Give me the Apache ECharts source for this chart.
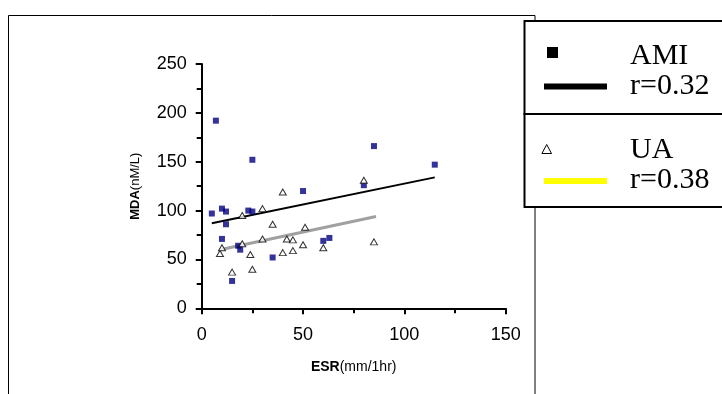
<!DOCTYPE html>
<html>
<head>
<meta charset="utf-8">
<script src="https://cdn.jsdelivr.net/npm/echarts@6/dist/echarts.min.js"></script>
<style>html,body{margin:0;padding:0;background:#fff;}#c{width:722px;height:394px;}</style>
</head>
<body>
<div id="c"></div>
<script>
// AMI data [ESR, MDA]
const amiPoints = [[5,97],[7,192],[10,102],[12,99],[12,86],[10,71],[18,64],[19,60],[15,28],[23,100],[25,99],[25,152],[35,52],[50,120],[60,69],[63,72],[80,126],[85,166],[115,147]];
// UA data [ESR, MDA]
const uaPoints = [[9,56],[10,62],[15,37],[20,95],[20,66],[24,55],[25,40],[30,102],[30,71],[35,86],[40,119],[40,57],[42,71],[45,70],[45,59],[50,65],[51,83],[60,62],[80,131],[85,68]];
// Trend line endpoints
const amiTrend = [[5,87],[115,134]];
const uaTrend = [[9,60],[86,94]];
const xTicks = [0,50,100,150];
const yTicks = [0,50,100,150,200,250];
const legendNames = ['AMI','r=0.32','UA','r=0.38'];

const chart = echarts.init(document.getElementById('c'));
const axisCommon = {
  axisLine:{show:true,lineStyle:{color:'#000',width:2}},
  axisTick:{show:true,inside:false,length:6,lineStyle:{color:'#000',width:2}},
  minorTick:{show:true,splitNumber:2,length:5,lineStyle:{color:'#000',width:2}},
  splitLine:{show:false},
  minorSplitLine:{show:false},
  axisLabel:{color:'#000',fontFamily:'Liberation Sans',fontSize:18}
};
chart.setOption({
  animation:false,
  backgroundColor:'#fff',
  grid:{left:201.7,right:216.3,top:64,bottom:85.7},
  xAxis:Object.assign({}, axisCommon, {
    type:'value',min:xTicks[0],max:xTicks[xTicks.length-1],interval:50,
    axisLabel:Object.assign({}, axisCommon.axisLabel,{margin:18}),
    name:'{b|ESR}(mm/1hr)',nameLocation:'middle',nameGap:52,
    nameTextStyle:{color:'#000',fontFamily:'Liberation Sans',fontSize:14,rich:{b:{fontWeight:'bold',fontFamily:'Liberation Sans',fontSize:14,color:'#000'}}}
  }),
  yAxis:Object.assign({}, axisCommon, {
    type:'value',min:yTicks[0],max:yTicks[yTicks.length-1],interval:50,
    axisLabel:Object.assign({}, axisCommon.axisLabel,{margin:15}),
    name:'{b|MDA}(nM/L)',nameLocation:'middle',nameGap:60,
    nameTextStyle:{color:'#000',fontFamily:'Liberation Sans',fontSize:13,rich:{b:{fontWeight:'bold',fontFamily:'Liberation Sans',fontSize:13,color:'#000'}}}
  }),
  series:[
    {type:'line',data:amiTrend,symbol:'none',lineStyle:{color:'#000',width:2},z:1},
    {type:'line',data:uaTrend,symbol:'none',lineStyle:{color:'#a0a0a0',width:3},z:1},
    {type:'scatter',data:amiPoints,symbol:'rect',symbolSize:6,itemStyle:{color:'#000080'},z:3},
    {type:'scatter',data:uaPoints,symbol:'triangle',symbolSize:[7,6],itemStyle:{color:'#fff',borderColor:'#000',borderWidth:1},z:4}
  ],
  graphic:[
    {type:'rect',shape:{x:8.5,y:15.5,width:526.5,height:400},style:{fill:'none',stroke:'#000',lineWidth:1},z:-10,silent:true},
    {type:'rect',shape:{x:524.5,y:21,width:210,height:93},style:{fill:'#fff',stroke:'#000',lineWidth:2},z:100},
    {type:'rect',shape:{x:524.5,y:114,width:210,height:93},style:{fill:'#fff',stroke:'#000',lineWidth:2},z:100},
    {type:'rect',shape:{x:547,y:47,width:11,height:11},style:{fill:'#000'},z:101},
    {type:'line',shape:{x1:544,y1:86.5,x2:607,y2:86.5},style:{stroke:'#000',lineWidth:6},z:101},
    {type:'polygon',shape:{points:[[546.7,144.5],[551.5,153.5],[541.9,153.5]]},style:{fill:'none',stroke:'#000',lineWidth:1},z:101},
    {type:'line',shape:{x1:544,y1:181,x2:607,y2:181},style:{stroke:'#ffff00',lineWidth:6},z:101},
    {type:'text',x:630,y:56,style:{text:legendNames[0],font:'30px "Liberation Serif"',fill:'#000',verticalAlign:'middle'},z:101},
    {type:'text',x:630,y:86,style:{text:legendNames[1],font:'30px "Liberation Serif"',fill:'#000',verticalAlign:'middle'},z:101},
    {type:'text',x:630,y:150,style:{text:legendNames[2],font:'30px "Liberation Serif"',fill:'#000',verticalAlign:'middle'},z:101},
    {type:'text',x:630,y:180,style:{text:legendNames[3],font:'30px "Liberation Serif"',fill:'#000',verticalAlign:'middle'},z:101}
  ]
});
</script>
</body>
</html>
